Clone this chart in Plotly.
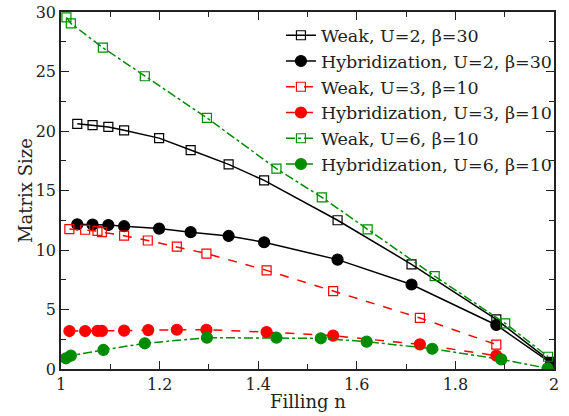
import plotly.graph_objects as go

# Weak, U=2, beta=30
weak_u2_x = [1.033, 1.064, 1.096, 1.128, 1.199, 1.263, 1.340, 1.412, 1.561, 1.711, 1.883, 1.994]
weak_u2_y = [20.6, 20.5, 20.34, 20.06, 19.4, 18.4, 17.2, 15.85, 12.5, 8.8, 4.17, 0.6]

# Hybridization, U=2, beta=30
hyb_u2_x = [1.033, 1.064, 1.096, 1.128, 1.199, 1.263, 1.340, 1.412, 1.561, 1.711, 1.883, 1.994]
hyb_u2_y = [12.16, 12.13, 12.1, 12.0, 11.8, 11.5, 11.18, 10.65, 9.19, 7.1, 3.7, 0.5]

# Weak, U=3, beta=10
weak_u3_x = [1.017, 1.049, 1.074, 1.083, 1.128, 1.176, 1.235, 1.295, 1.417, 1.552, 1.728, 1.883]
weak_u3_y = [11.76, 11.7, 11.6, 11.5, 11.2, 10.8, 10.28, 9.7, 8.29, 6.55, 4.29, 2.05]

# Hybridization, U=3, beta=10
hyb_u3_x = [1.017, 1.049, 1.074, 1.083, 1.128, 1.177, 1.235, 1.295, 1.417, 1.552, 1.728, 1.883]
hyb_u3_y = [3.19, 3.19, 3.2, 3.2, 3.22, 3.27, 3.3, 3.3, 3.1, 2.8, 2.07, 1.12]

# Weak, U=6, beta=10
weak_u6_x = [1.011, 1.020, 1.085, 1.170, 1.296, 1.437, 1.529, 1.622, 1.758, 1.901, 1.988]
weak_u6_y = [29.55, 29.04, 27.0, 24.6, 21.1, 16.83, 14.43, 11.74, 7.8, 3.84, 1.03]

# Hybridization, U=6, beta=10
hyb_u6_x = [1.010, 1.020, 1.086, 1.170, 1.296, 1.437, 1.527, 1.620, 1.753, 1.893, 1.987]
hyb_u6_y = [0.9, 1.12, 1.6, 2.16, 2.63, 2.63, 2.58, 2.3, 1.7, 0.81, 0.06]

x_ticks = [1, 1.2, 1.4, 1.6, 1.8, 2]
x_tick_labels = ["1", "1.2", "1.4", "1.6", "1.8", "2"]
y_ticks = [0, 5, 10, 15, 20, 25, 30]

GREEN = "rgb(0,140,0)"
RED = "rgb(255,0,0)"
BLACK = "black"

series = [
    ("Weak, U=2, β=30", weak_u2_x, weak_u2_y, BLACK, "solid", "square-open"),
    ("Hybridization, U=2, β=30", hyb_u2_x, hyb_u2_y, BLACK, "solid", "circle"),
    ("Weak, U=3, β=10", weak_u3_x, weak_u3_y, RED, "dash", "square-open"),
    ("Hybridization, U=3, β=10", hyb_u3_x, hyb_u3_y, RED, "dash", "circle"),
    ("Weak, U=6, β=10", weak_u6_x, weak_u6_y, GREEN, "dashdot", "square-open"),
    ("Hybridization, U=6, β=10", hyb_u6_x, hyb_u6_y, GREEN, "dashdot", "circle"),
]

fig = go.Figure()
for name, xs, ys, col, dash, sym in series:
    is_open = sym.endswith("open")
    fig.add_trace(go.Scatter(
        x=xs, y=ys, name=name, mode="lines+markers",
        line=dict(color=col, width=1.5, dash=dash),
        marker=dict(symbol=sym, size=9 if is_open else 11, color=col,
                    line=dict(color=col, width=1.2)),
    ))

FONT = "DejaVu Serif"
TXT = "#222"
fig.update_layout(
    width=569, height=416,
    margin=dict(l=61, r=15, t=12, b=47, autoexpand=False),
    paper_bgcolor="white", plot_bgcolor="white",
    font=dict(family=FONT, size=16, color=TXT),
    showlegend=True,
    legend=dict(x=1.008, y=0.985, xanchor="right", yanchor="top",
                bgcolor="rgba(0,0,0,0)", font=dict(family=FONT, size=17.5, color=TXT),
                tracegroupgap=0, itemwidth=30),
    annotations=[
        dict(text="Filling n", xref="paper", yref="paper", x=0.5, y=0, yshift=-32,
             xanchor="center", yanchor="middle", showarrow=False,
             font=dict(family=FONT, size=18, color=TXT)),
        dict(text="Matrix Size", xref="paper", yref="paper", x=0, y=0.5, xshift=-35.5,
             xanchor="center", yanchor="middle", textangle=-90, showarrow=False,
             font=dict(family=FONT, size=18, color=TXT)),
    ],
)
fig.update_xaxes(
    range=[1, 2], tickvals=x_ticks, ticktext=x_tick_labels,
    ticks="inside", ticklen=8, tickwidth=1.2, tickcolor=TXT,
    minor=dict(dtick=0.1, ticks="inside", ticklen=5, tickcolor=TXT, showgrid=False),
    showline=True, linecolor=TXT, linewidth=1.5, mirror="ticks", showgrid=False, zeroline=False,
    automargin=False, tickfont=dict(family=FONT, size=16), ticklabeloverflow="allow",
)
fig.update_yaxes(
    range=[0, 30], tickvals=y_ticks,
    ticks="inside", ticklen=8, tickwidth=1.2, tickcolor=TXT,
    minor=dict(dtick=2.5, ticks="inside", ticklen=5, tickcolor=TXT, showgrid=False),
    showline=True, linecolor=TXT, linewidth=1.5, mirror="ticks", showgrid=False, zeroline=False,
    automargin=False, tickfont=dict(family=FONT, size=16), ticklabeloverflow="allow",
)

fig.write_html("out.html", config={"displayModeBar": False},
               post_script="document.body.style.margin='0px';")
